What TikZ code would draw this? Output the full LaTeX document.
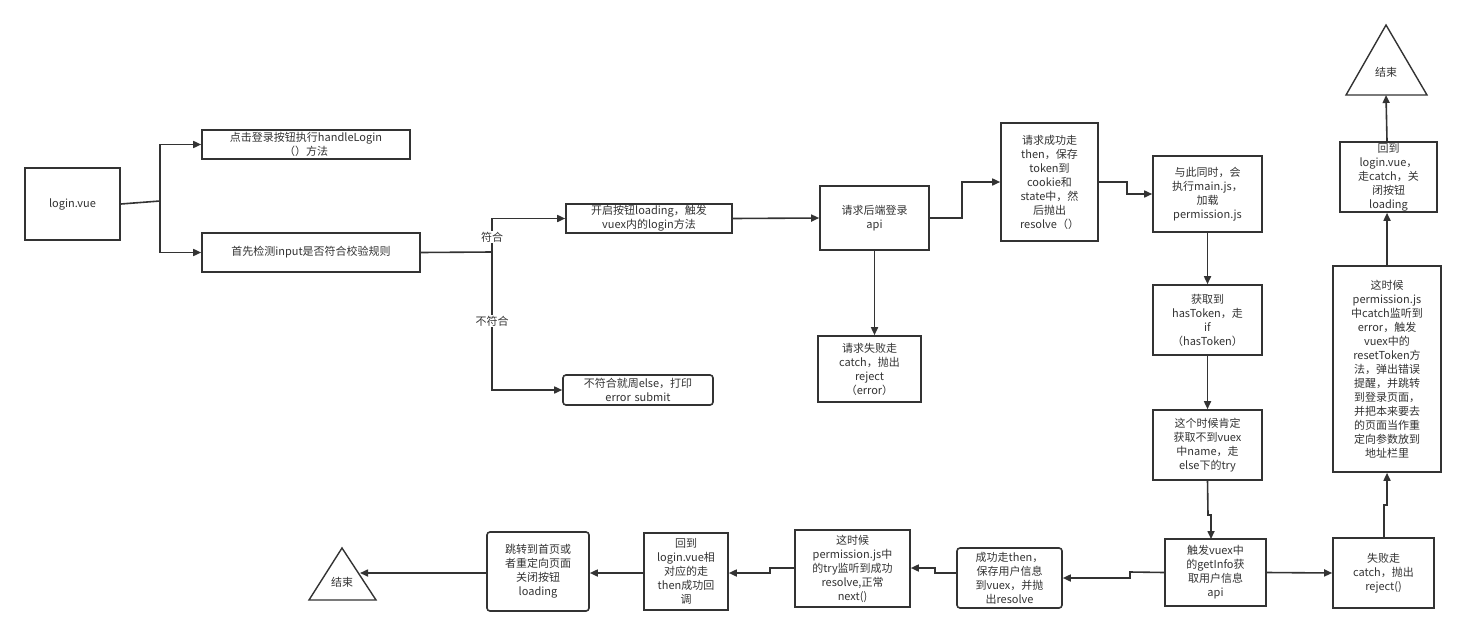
\documentclass[tikz,border=0pt]{standalone}
\usepackage{fontspec}
\setmainfont{Noto Sans CJK SC}
\usetikzlibrary{arrows.meta,shapes.geometric}
\definecolor{ink}{HTML}{333333}
\begin{document}
\begin{tikzpicture}[x=1pt,y=-1pt,
  bx/.style={draw=ink,line width=1.6pt,fill=white,align=center,font=\fontsize{11}{14}\selectfont,text=ink,inner sep=1pt},
  rb/.style={bx,rounded corners=3pt},
  tri/.style={draw=ink,line width=1.4pt,fill=white},
  ar/.style={draw=ink,line width=1.6pt,-{Triangle[length=8pt,width=7pt]}},
  ln/.style={draw=ink,line width=1.6pt},
  lab/.style={fill=white,font=\fontsize{11}{14}\selectfont,text=ink,inner sep=1pt}]
\useasboundingbox (0,0) rectangle (1466,637);
\newcommand\B[7][bx]{\node[#1,minimum width=#4-#2,minimum height=#5-#3,text width=#4-#2-6] (#6) at ({(#2+#4)/2},{(#3+#5)/2}) {#7};}
\B{25}{168}{120}{240}{login}{login.vue}
\B{202}{130}{410}{159}{hl}{点击登录按钮执行handleLogin\\（）方法}
\B{202}{233}{420}{272}{inp}{首先检测input是否符合校验规则}
\B{566}{204}{732}{233}{ld}{开启按钮loading，触发\\vuex内的login方法}
\B[rb]{563}{375}{713}{405}{no}{不符合就周else，打印\\error submit}
\B{820}{186}{929}{250}{api}{请求后端登录\\api}
\B{818}{336}{921}{402}{fail}{请求失败走\\catch，抛出\\reject\\（error）}
\B{1001}{123}{1098}{241}{th}{请求成功走\\then，保存\\token到\\cookie和\\state中，然\\后抛出\\resolve（）}
\B{1153}{156}{1262}{232}{mj}{与此同时，会\\执行main.js，\\加载\\permission.js}
\B{1153}{285}{1262}{355}{ht}{获取到\\hasToken，走\\if\\（hasToken）}
\B{1153}{410}{1262}{480}{try}{这个时候肯定\\获取不到vuex\\中name，走\\else下的try}
\B{1165}{539}{1266}{606}{gi}{触发vuex中\\的getInfo获\\取用户信息\\api}
\B{1333}{538}{1434}{608}{f2}{失败走\\catch，抛出\\reject()}
\B{1333}{266}{1441}{472}{rs}{这时候\\permission.js\\中catch监听到\\error，触发\\vuex中的\\resetToken方\\法，弹出错误\\提醒，并跳转\\到登录页面，\\并把本来要去\\的页面当作重\\定向参数放到\\地址栏里}
\B{1340}{142}{1437}{212}{ct}{回到\\login.vue，\\走catch，关\\闭按钮\\loading}
\B[rb]{957}{548}{1062}{608}{st}{成功走then，\\保存用户信息\\到vuex，并抛\\出resolve}
\B{795}{530}{910}{607}{pt}{这时候\\permission.js中\\的try监听到成功\\resolve,正常\\next()}
\B{644}{533}{728}{610}{lv}{回到\\login.vue相\\对应的走\\then成功回\\调}
\B[rb]{487}{532}{589}{611}{jp}{跳转到首页或\\者重定向页面\\关闭按钮\\loading}
\draw[tri] (1386,25) -- (1427,95) -- (1346,95) -- cycle;
\node[font=\fontsize{11}{14}\selectfont,text=ink] (e1) at (1386,72) {结束};
\draw[tri] (342,548) -- (376,600) -- (309,600) -- cycle;
\node[font=\fontsize{11}{14}\selectfont,text=ink] (e2) at (342,582) {结束};
\coordinate (e1b) at (1386,95);
\coordinate (e2r) at (360,573);
% connectors
\draw[ln] (login.east) -- (160,201);
\draw[ar] (160,201) |- (hl.west);
\draw[ar] (160,201) |- (inp.west);
\draw[ln] (inp.east) -- (492,252);
\draw[ar] (492,252) |- (ld.west);
\draw[ar] (492,252) |- (no.west);
\node[lab] at (492,237) {符合};
\node[lab] at (492,321) {不符合};
\draw[ar] (ld.east) -- (api.west);
\draw[ar] (api.east) -- (962,218) |- (th.west);
\draw[ar] (th.east) -- (1127,182) |- (mj.west);
\draw[ar] (api.south) -- (fail.north-|api.south);
\draw[ar] (mj) -- (ht);
\draw[ar] (ht) -- (try);
\draw[ar] (try.south) -- (1208,515) -- (1211,515) -- (1211,539);
\draw[ar] (gi.east) -- (f2.west);
\draw[ar] (1384,538) -- (1384,505) -- (1387,505) -- (rs.south-|1387,0);
\draw[ar] (rs.north-|1387,0) -- (ct.south-|1387,0);
\draw[ar] (ct.north-|1387,0) -- (e1b);
\draw[ar] (gi.west) -- (1130,572) -- (1130,578) -- (st.east|-0,578);
\draw[ar] (st.west|-0,573) -- (935,573) -- (935,568) -- (pt.east|-0,568);
\draw[ar] (pt.west|-0,568) -- (770,568) -- (770,573) -- (lv.east|-0,573);
\draw[ar] (lv.west|-0,573) -- (jp.east|-0,573);
\draw[ar] (jp.west|-0,573) -- (e2r);
\end{tikzpicture}
\end{document}
